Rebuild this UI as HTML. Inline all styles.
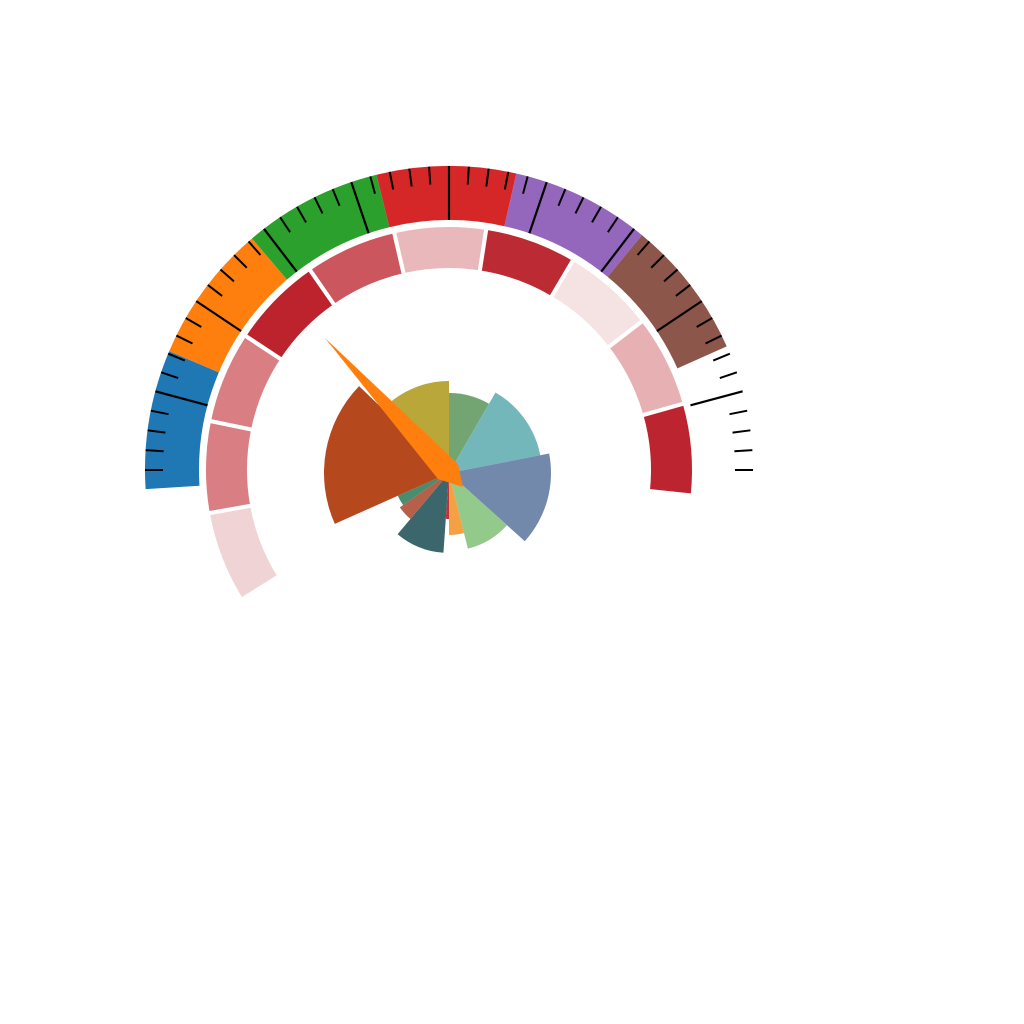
<!DOCTYPE html>
<html><head><meta charset="utf-8"><style>
html,body{margin:0;padding:0;background:#fff;}
svg{display:block;}
</style></head><body>
<svg id="chart" width="1024" height="1024" viewBox="0 0 1024 1024">
<g id="outer"></g>
<g id="ticks"></g>
<g id="inner"></g>
<g id="rose"></g>
<polygon id="needle" points="325,338 458,464 463,487 438,479" fill="#ff7f0e"/>
</svg>
<script>
// Outer band: start angle (deg), width per segment
const outerStarts = [183.6, 157, 130.4, 103.8, 77.2, 50.6];
const outerWidth = 26.6;
const outerColors = ["#1f77b4","#ff7f0e","#2ca02c","#d62728","#9467bd","#8c564b"];
// Inner band
const innerStart = 212;
const innerStep = 21.8;
const innerColors = ["#f0d3d5","#d97e83","#d97e83","#bc232d","#cc565e","#e9b8bb","#bc2a33","#f5e3e4","#e7b0b2","#bc2530"];
// Rose petals: start angle, end angle, radius
const petalStart = [90, 60, 11, -42, -76, -90, -94, -130, -145, -156, 136];
const petalEnd   = [60, 11, -42, -76, -90, -94, -130, -145, -156, -224, 90];
const petalRadius = [80, 93, 102, 78, 62, 46, 80, 60, 56, 125, 92];
const petalColors = ["#73a573","#74b7bb","#7289ab","#93c98b","#f4a143","#c03434","#3a666c","#b5604a","#4a8c6e","#b5491d","#b9a73a"];

const NS = "http://www.w3.org/2000/svg";
const cx = 449, cy = 470;
function pt(r, a){ const t = a*Math.PI/180; return [cx + r*Math.cos(t), cy - r*Math.sin(t)]; }
function arc(r0, r1, a0, a1, ox, oy){
  ox = ox||0; oy = oy||0;
  const p = (r,a)=>{const q=pt(r,a); return (q[0]+ox).toFixed(2)+","+(q[1]+oy).toFixed(2);};
  const large = Math.abs(a0-a1) > 180 ? 1 : 0;
  const sweep = a0 > a1 ? 1 : 0;
  const sweepB = 1 - sweep;
  if (r0 <= 0) return "M"+(cx+ox)+","+(cy+oy)+" L"+p(r1,a0)+" A"+r1+","+r1+" 0 "+large+" "+sweep+" "+p(r1,a1)+" Z";
  return "M"+p(r0,a0)+" L"+p(r1,a0)+" A"+r1+","+r1+" 0 "+large+" "+sweep+" "+p(r1,a1)+" L"+p(r0,a1)+" A"+r0+","+r0+" 0 "+large+" "+sweepB+" "+p(r0,a0)+" Z";
}
const outer = document.getElementById("outer");
outerStarts.forEach((s,i)=>{
  const el = document.createElementNS(NS,"path");
  el.setAttribute("d", arc(250, 304, s, s-outerWidth));
  el.setAttribute("fill", outerColors[i]);
  
  
  outer.appendChild(el);
});
const ticks = document.getElementById("ticks");
for (let i=0;i<=48;i++){
  const a = 180 - i*3.75;
  const major = ((i-24)%5+5)%5===0;
  const p0 = pt(major?250:286, a), p1 = pt(304, a);
  const el = document.createElementNS(NS,"line");
  el.setAttribute("x1",p0[0]); el.setAttribute("y1",p0[1]);
  el.setAttribute("x2",p1[0]); el.setAttribute("y2",p1[1]);
  el.setAttribute("stroke","#000"); el.setAttribute("stroke-width", major?2.2:2);
  
  
  ticks.appendChild(el);
}
const inner = document.getElementById("inner");
innerColors.forEach((c,i)=>{
  const s = innerStart - i*innerStep;
  const el = document.createElementNS(NS,"path");
  el.setAttribute("d", arc(200, 245, s, s-innerStep));
  el.setAttribute("fill", c);
  el.setAttribute("stroke","#fff"); el.setAttribute("stroke-width","4");
  
  
  inner.appendChild(el);
});
const rose = document.getElementById("rose");
petalStart.forEach((s,i)=>{
  const el = document.createElementNS(NS,"path");
  el.setAttribute("d", arc(0, petalRadius[i], s, petalEnd[i], 0, 3));
  el.setAttribute("fill", petalColors[i]);
  
  
  rose.appendChild(el);
});
</script>
</body></html>
